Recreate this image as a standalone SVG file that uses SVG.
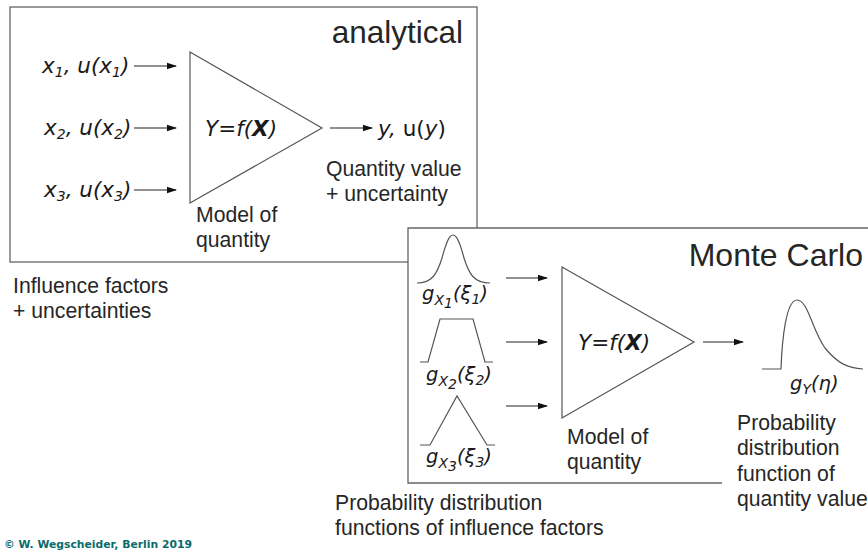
<svg xmlns="http://www.w3.org/2000/svg" width="868" height="553" viewBox="0 0 868 553">
<defs>
<marker id="ah" markerWidth="10" markerHeight="8" refX="9" refY="4" orient="auto" markerUnits="userSpaceOnUse">
<path d="M0,0.8 L10,4 L0,7.2 Z" fill="#111"/>
</marker>
<style>
.box{fill:#fff;stroke:#666;stroke-width:1.3}
.ln{fill:none;stroke:#555;stroke-width:1.2}
.arr{fill:none;stroke:#222;stroke-width:1.2;marker-end:url(#ah)}
.lbl{font-family:"Liberation Sans",Arial,sans-serif;font-size:21.2px;fill:#262626}
.ttl{font-family:"Liberation Sans",Arial,sans-serif;fill:#262626}
.m{font-family:"DejaVu Sans",Verdana,sans-serif;font-style:italic;font-size:21.5px;fill:#1a1a1a}
.g{font-family:"DejaVu Sans",Verdana,sans-serif;font-style:italic;font-size:19.5px;fill:#1a1a1a}
.sub{font-size:14px}
.up{font-style:normal}
.b{font-weight:bold}
</style>
</defs>
<rect width="868" height="553" fill="#fff"/>

<g id="analytical">
<rect class="box" x="10" y="7" width="467" height="255"/>
<text class="ttl" x="463" y="43" font-size="31.5" text-anchor="end">analytical</text>
</g>

<g id="in1"><text class="m" x="42" y="73">x<tspan class="sub" dy="4">1</tspan><tspan dy="-4">, u(x</tspan><tspan class="sub" dy="4">1</tspan><tspan dy="-4">)</tspan></text></g>
<g id="in2"><text class="m" x="44" y="135">x<tspan class="sub" dy="4">2</tspan><tspan dy="-4">, u(x</tspan><tspan class="sub" dy="4">2</tspan><tspan dy="-4">)</tspan></text></g>
<g id="in3"><text class="m" x="44" y="197">x<tspan class="sub" dy="4">3</tspan><tspan dy="-4">, u(x</tspan><tspan class="sub" dy="4">3</tspan><tspan dy="-4">)</tspan></text></g>

<g id="model1">
<path class="ln" d="M190,52 L190,203 L322,128 Z"/>
<text class="m" x="205" y="136">Y=f(<tspan class="b">X</tspan>)</text>
<text class="lbl" x="196" y="222">Model of</text>
<text class="lbl" x="196" y="247">quantity</text>
</g>

<g id="out1">
<text class="m" x="378" y="136">y, <tspan class="up">u(</tspan>y<tspan class="up">)</tspan></text>
<text class="lbl" x="326" y="176">Quantity value</text>
<text class="lbl" x="326" y="201">+ uncertainty</text>
</g>

<g id="infl">
<text class="lbl" x="13" y="293">Influence factors</text>
<text class="lbl" x="13" y="318">+ uncertainties</text>
</g>

<g id="montecarlo">
<path class="box" d="M408,228 L870,228 L870,483 L408,483 Z"/>
<rect x="722" y="470" width="148" height="20" fill="#fff"/>
<text class="ttl" x="863" y="266" font-size="32" text-anchor="end">Monte Carlo</text>
</g>

<g id="g1">
<path class="ln" d="M417,283 C432,283 437,274 442,258 C446,243 449,235 453,235 C457,235 460,243 464,258 C469,274 474,283 490,283"/>
<text class="g" x="422" y="300">g<tspan class="sub" dy="5">X</tspan><tspan class="sub" font-size="10" dy="3">1</tspan><tspan dy="-8">(ξ</tspan><tspan class="sub" dy="4">1</tspan><tspan dy="-4">)</tspan></text>
</g>
<g id="g2">
<path class="ln" d="M420,362 L428,362 L440,319 L473,319 L485,362 L493,362"/>
<text class="g" x="426" y="381">g<tspan class="sub" dy="5">X</tspan><tspan class="sub" font-size="10" dy="3">2</tspan><tspan dy="-8">(ξ</tspan><tspan class="sub" dy="4">2</tspan><tspan dy="-4">)</tspan></text>
</g>
<g id="g3">
<path class="ln" d="M420,445 L430,445 L457,396 L487,445 L495,445"/>
<text class="g" x="426" y="463">g<tspan class="sub" dy="5">X</tspan><tspan class="sub" font-size="10" dy="3">3</tspan><tspan dy="-8">(ξ</tspan><tspan class="sub" dy="4">3</tspan><tspan dy="-4">)</tspan></text>
</g>

<g id="model2">
<path class="ln" d="M562,267 L562,418 L694,342 Z"/>
<text class="m" x="578" y="350">Y=f(<tspan class="b">X</tspan>)</text>
<text class="lbl" x="567" y="444">Model of</text>
<text class="lbl" x="567" y="469">quantity</text>
</g>

<g id="gy">
<path class="ln" d="M762,369 L781,369 C782,340 786,300 797,300 C808,300 812,330 825,348 C838,364 848,368 863,369"/>
<text class="g" x="790" y="390" font-size="20.5">g<tspan class="sub" dy="4">Y</tspan><tspan dy="-4">(η)</tspan></text>
<text class="lbl" x="737" y="430">Probability</text>
<text class="lbl" x="737" y="455">distribution</text>
<text class="lbl" x="737" y="481">function of</text>
<text class="lbl" x="737" y="506">quantity value</text>
</g>

<g id="pdf">
<text class="lbl" x="335" y="510">Probability distribution</text>
<text class="lbl" x="335" y="535">functions of influence factors</text>
</g>

<g id="connectors">
<line class="arr" x1="134" y1="66" x2="176" y2="66"/>
<line class="arr" x1="134" y1="128" x2="176" y2="128"/>
<line class="arr" x1="134" y1="190" x2="176" y2="190"/>
<line class="arr" x1="330" y1="128" x2="372" y2="128"/>
<line class="arr" x1="506" y1="278" x2="547" y2="278"/>
<line class="arr" x1="506" y1="342" x2="547" y2="342"/>
<line class="arr" x1="506" y1="406" x2="547" y2="406"/>
<line class="arr" x1="703" y1="342" x2="743" y2="342"/>
</g>

<g id="footer">
<text x="4" y="548" font-family="'DejaVu Sans',Verdana,sans-serif" font-weight="bold" font-size="11" fill="#0b6b6b" textLength="188" lengthAdjust="spacingAndGlyphs">© W. Wegscheider, Berlin 2019</text>
</g>
</svg>
